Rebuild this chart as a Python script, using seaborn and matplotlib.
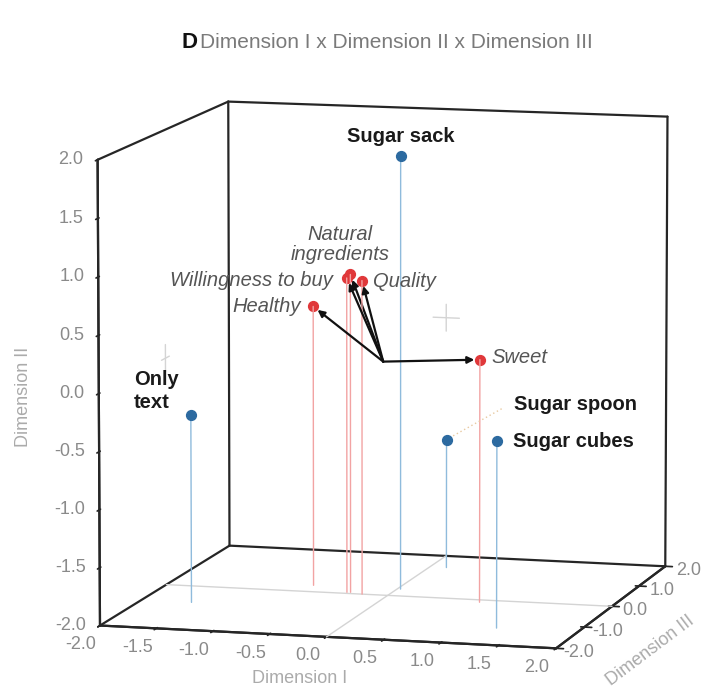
import numpy as np
import matplotlib
matplotlib.use("Agg")
import matplotlib.pyplot as plt
from matplotlib.patches import FancyArrowPatch
from mpl_toolkits.mplot3d import proj3d
import seaborn as sns

# Product stimuli (blue) in the three-dimensional solution
products = ["Sugar sack", "Only\ntext", "Sugar spoon", "Sugar cubes"]
prod_dim1 = [0.03, -1.55, 0.15, 1.29]
prod_dim2 = [1.80, -0.36, -0.86, -0.39]
prod_dim3 = [0.32, -0.76, 1.44, -1.24]

# Attribute vectors (red), drawn as arrows from the centre of the space
attributes = ["Natural\ningredients", "Willingness to buy", "Quality", "Healthy", "Sweet"]
attr_dim1 = [-0.35, -0.38, -0.23, -0.75, 0.85]
attr_dim2 = [0.79, 0.76, 0.75, 0.46, 0.12]
attr_dim3 = [0.06, 0.05, 0.00, 0.30, -0.11]
arrow_tail = (-0.04, 0.0, 0.05)

dim_ticks = [-2.0, -1.5, -1.0, -0.5, 0.0, 0.5, 1.0, 1.5, 2.0]
dim3_ticks = [-2.0, -1.0, 0.0, 1.0, 2.0]
lo, hi = -2.0, 2.0

sns.set_theme(style="white")
plt.rcParams["font.family"] = ["Liberation Sans", "DejaVu Sans"]

blue, red = "#2c6aa0", "#e0383a"
blue_stem, red_stem = "#8fbbdc", "#f2a3a3"
tick_txt = "#8a8a8a"
axis_txt = "#ababab"
edge = "#262626"


class Arrow3D(FancyArrowPatch):
    def __init__(self, xs, ys, zs, *args, **kwargs):
        super().__init__((0, 0), (0, 0), *args, **kwargs)
        self._verts3d = xs, ys, zs

    def do_3d_projection(self, renderer=None):
        xs3d, ys3d, zs3d = self._verts3d
        xs, ys, zs = proj3d.proj_transform(xs3d, ys3d, zs3d, self.axes.M)
        self.set_positions((xs[0], ys[0]), (xs[1], ys[1]))
        return np.min(zs)


fig = plt.figure(figsize=(7.02, 6.94), dpi=100)
ax = fig.add_axes([0.04, -0.002, 1.0, 0.92], projection="3d")
ax.set_proj_type("persp", focal_length=2.6)
ax.view_init(elev=9, azim=-75)
ax.set_box_aspect((1, 1, 1), zoom=1.22)
ax.set_xlim(lo, hi)
ax.set_ylim(lo, hi)
ax.set_zlim(lo, hi)
ax.grid(False)

for axis in (ax.xaxis, ax.yaxis, ax.zaxis):
    axis.set_pane_color((1, 1, 1, 1))
    axis.pane.set_edgecolor((1, 1, 1, 0))
    axis.line.set_color(edge)
    axis.line.set_linewidth(1.6)
    axis._axinfo["tick"]["color"] = edge
ax.zaxis.set_ticks_position("lower")

ax.set_xticks(dim_ticks)
ax.set_zticks(dim_ticks)
ax.set_yticks(dim3_ticks)
ax.set_xticklabels([])
ax.set_yticklabels([])
ax.set_zticklabels([])

# box outline: left wall, back wall and floor
box_edges = [
    ([lo, lo], [lo, lo], [lo, hi]), ([lo, lo], [hi, hi], [lo, hi]), ([hi, hi], [hi, hi], [lo, hi]),
    ([lo, lo], [lo, hi], [hi, hi]), ([lo, hi], [hi, hi], [hi, hi]),
    ([lo, hi], [lo, lo], [lo, lo]), ([lo, lo], [lo, hi], [lo, lo]),
    ([hi, hi], [lo, hi], [lo, lo]), ([lo, hi], [hi, hi], [lo, lo]),
]
for xs, ys, zs in box_edges:
    ax.plot(xs, ys, zs, color=edge, lw=1.6, solid_capstyle="round")

# reference cross-hairs on the floor and the two walls
cross = "#d4d4d4"
ax.plot([lo, hi], [0, 0], [lo, lo], color=cross, lw=1)
ax.plot([0, 0], [lo, hi], [lo, lo], color=cross, lw=1)
c = 0.12
ax.plot([lo, lo], [-c, c], [0, 0], color=cross, lw=1)
ax.plot([lo, lo], [0, 0], [-c, c], color=cross, lw=1)
zb = 0.14
ax.plot([-c, c], [hi, hi], [zb, zb], color=cross, lw=1)
ax.plot([0, 0], [hi, hi], [zb - c, zb + c], color=cross, lw=1)

# stems down to the floor
for x, y, z in zip(prod_dim1, prod_dim3, prod_dim2):
    ax.plot([x, x], [y, y], [lo, z], color=blue_stem, lw=1)
for x, y, z in zip(attr_dim1, attr_dim3, attr_dim2):
    ax.plot([x, x], [y, y], [lo, z], color=red_stem, lw=1)

# attribute arrows
tx, ty, tz = arrow_tail
for x, y, z in zip(attr_dim1, attr_dim3, attr_dim2):
    arr = Arrow3D([tx, x], [ty, y], [tz, z], arrowstyle="-|>", mutation_scale=10,
                  lw=1.6, color="#111111", shrinkA=0, shrinkB=4)
    ax.add_artist(arr)

ax.scatter(prod_dim1, prod_dim3, prod_dim2, s=50, color=blue, depthshade=False, zorder=5)
ax.scatter(attr_dim1, attr_dim3, attr_dim2, s=50, color=red, depthshade=False, zorder=5)

# dotted leader for the sugar spoon label
ax.plot([prod_dim1[2] + 0.06, prod_dim1[2] + 0.5], [prod_dim3[2]] * 2,
        [prod_dim2[2] + 0.04, prod_dim2[2] + 0.3], color="#e8c9a0", lw=1, ls=(0, (1, 2)))

# text is placed in screen space next to the projected 3D anchor points
fig.canvas.draw()
M = ax.get_proj()


def label(x, y, z, s, dx, dy, **kw):
    px, py, _ = proj3d.proj_transform(x, y, z, M)
    ax.annotate(s, xy=(px, py), xycoords="data", xytext=(dx, dy),
                textcoords="offset pixels", annotation_clip=False, **kw)


tick_kw = dict(fontsize=13, color=tick_txt, va="center")
for t in dim_ticks:
    label(t, lo, lo, f"{t:.1f}", -19, -19, ha="center", **tick_kw)
    label(lo, lo, t, f"{t:.1f}", -14, 0, ha="right", **tick_kw)
for t in dim3_ticks:
    label(hi, t, lo, f"{t:.1f}", 23, -4, ha="center", **tick_kw)

axis_kw = dict(fontsize=13, color=axis_txt, ha="center", va="center", rotation_mode="anchor")
label(0, lo, lo, "Dimension I", -27, -42, **axis_kw)
label(lo, lo, 0, "Dimension II", -75, -3, rotation=90, **axis_kw)
label(hi, 0, lo, "Dimension III", 38, -44, rotation=37, **axis_kw)

prod_offsets = [(0, 20, "center"), (-12, 24, "right"), (67, 36, "left"), (16, 0, "left")]
for name, x, y, z, (dx, dy, ha) in zip(products, prod_dim1, prod_dim3, prod_dim2, prod_offsets):
    label(x, y, z, name, dx, dy, ha=ha, va="center", fontsize=14.5, fontweight="bold",
          color="#1a1a1a", multialignment="left", linespacing=1.25)

attr_offsets = [(-10, 30, "center"), (-14, -3, "right"), (11, -1, "left"),
                (-12, 0, "right"), (12, 2, "left")]
for name, x, y, z, (dx, dy, ha) in zip(attributes, attr_dim1, attr_dim3, attr_dim2, attr_offsets):
    label(x, y, z, name, dx, dy, ha=ha, va="center", fontsize=14.5, fontstyle="italic",
          color="#555555", multialignment="center", linespacing=1.05)

fig.text(197 / 702, 1 - 42 / 694, "D", ha="right", va="center", fontsize=16,
         fontweight="bold", color="#111111")
fig.text(200 / 702, 1 - 42 / 694, "Dimension I x Dimension II x Dimension III", ha="left",
         va="center", fontsize=15, color="#7a7a7a")

fig.savefig("out.png", dpi=100)
